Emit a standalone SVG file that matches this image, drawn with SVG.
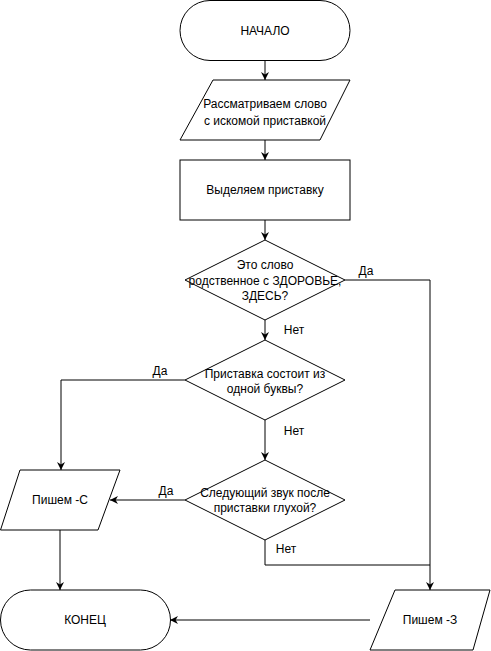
<svg xmlns="http://www.w3.org/2000/svg" width="491" height="651" viewBox="0 0 491 651">
<style>
.s{fill:#fff;stroke:#000;stroke-width:1}
.t{font-family:"Liberation Sans",Arial,sans-serif;font-size:12px;fill:#000;text-anchor:middle;dominant-baseline:central}
.e{fill:none;stroke:#000;stroke-width:1}
.l{font-family:"Liberation Sans",Arial,sans-serif;font-size:12px;fill:#000;text-anchor:middle;dominant-baseline:central}
</style>
<defs>
<marker id="a" viewBox="0 0 10 10" refX="10" refY="5" markerWidth="8" markerHeight="8" orient="auto" markerUnits="userSpaceOnUse">
<path d="M0,0 L10,5 L0,10 L3,5 Z" fill="#000"/>
</marker>
</defs>
<rect width="491" height="651" fill="#fff"/>
<g id="connectors">
<path class="e" d="M265,61 V80" marker-end="url(#a)"/>
<path class="e" d="M265,140 V160" marker-end="url(#a)"/>
<path class="e" d="M265,220 V240" marker-end="url(#a)"/>
<path class="e" d="M345,280 H430 V590" marker-end="url(#a)"/>
<path class="e" d="M265,320 V340" marker-end="url(#a)"/>
<path class="e" d="M185,380 H61 V470" marker-end="url(#a)"/>
<path class="e" d="M265,420 V460" marker-end="url(#a)"/>
<path class="e" d="M185,500 H110" marker-end="url(#a)"/>
<path class="e" d="M265,540 V565 H430"/>
<path class="e" d="M60,530 V590" marker-end="url(#a)"/>
<path class="e" d="M370,620 H170" marker-end="url(#a)"/>
<text class="l" x="366" y="271">Да</text>
<text class="l" x="294" y="330">Нет</text>
<text class="l" x="160" y="371">Да</text>
<text class="l" x="294" y="431">Нет</text>
<text class="l" x="166" y="491">Да</text>
<text class="l" x="286" y="549">Нет</text>
</g>
<g id="start">
<rect class="s" x="180" y="0.5" width="170" height="60" rx="30" ry="30"/>
<text class="t" x="265" y="31">НАЧАЛО</text>
</g>
<g id="input">
<polygon class="s" points="213,80 350,80 320,140 180,140"/>
<text class="t" x="265" y="104">Рассматриваем слово</text>
<text class="t" x="265" y="121">с искомой приставкой</text>
</g>
<g id="extract">
<rect class="s" x="180" y="160" width="170" height="60"/>
<text class="t" x="265" y="190">Выделяем приставку</text>
</g>
<g id="d1">
<polygon class="s" points="265,240 345,280 265,320 185,280"/>
<text class="t" x="265" y="265">Это слово</text>
<text class="t" x="265" y="281">родственное с ЗДОРОВЬЕ,</text>
<text class="t" x="265" y="296">ЗДЕСЬ?</text>
</g>
<g id="d2">
<polygon class="s" points="265,340 345,380 265,420 185,380"/>
<text class="t" x="265" y="374">Приставка состоит из</text>
<text class="t" x="265" y="389">одной буквы?</text>
</g>
<g id="d3">
<polygon class="s" points="265,460 345,500 265,540 185,500"/>
<text class="t" x="265" y="493">Следующий звук после</text>
<text class="t" x="265" y="508">приставки глухой?</text>
</g>
<g id="writeS">
<polygon class="s" points="20,470 120,470 98,530 0.5,530"/>
<text class="t" x="60" y="500">Пишем -С</text>
</g>
<g id="end">
<rect class="s" x="0.5" y="590" width="170" height="60" rx="30" ry="30"/>
<text class="t" x="85" y="620">КОНЕЦ</text>
</g>
<g id="writeZ">
<polygon class="s" points="395,590 490,590 473,650 370,650"/>
<text class="t" x="430" y="620">Пишем -З</text>
</g>
</svg>
